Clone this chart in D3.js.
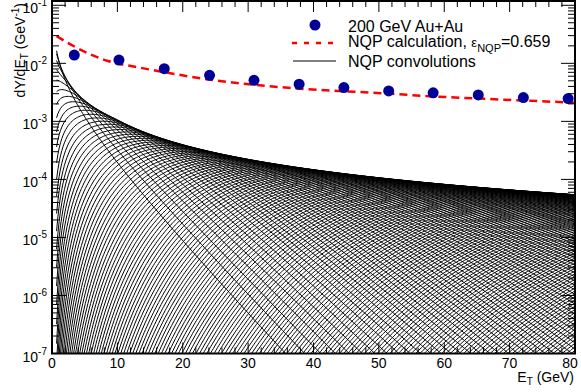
<!DOCTYPE html>
<html>
<head>
<meta charset="utf-8">
<script src="https://cdn.jsdelivr.net/npm/d3@7"></script>
<style>
  html, body { margin: 0; padding: 0; background: #fff; }
  svg { display: block; font-family: "Liberation Sans", Arial, Helvetica, sans-serif; }
</style>
</head>
<body>
<svg id="chart" width="581" height="392"></svg>
<script>
// measured Au+Au points
const dataE = [3.41, 10.24, 17.17, 24.1, 30.9, 37.8, 44.65, 51.5, 58.3, 65.2, 72.1, 78.95];
const dataY = [0.01387, 0.0114, 0.00807, 0.00622, 0.0051, 0.00436, 0.00382, 0.00335, 0.0031, 0.00286, 0.00257, 0.00247];

// NQP calculation (red dashed)
const calcE = [0.7, 3.8, 8.6, 13.5, 18.5, 23.7, 29.3, 37.9, 51.4, 58.6, 65.4, 73.1, 80];
const calcY = [0.0294, 0.0185, 0.01094, 0.0084, 0.00664, 0.00531, 0.00446, 0.00366, 0.00301, 0.00268, 0.00247, 0.00226, 0.0021];

// NQP convolutions: N-fold gamma, weight of each N read from the upper envelope
const nqpCount = 220;
const nqpShape = 0.23;  // gamma p per NQP
const nqpScale = 3.9;   // gamma b (GeV)
const nqpStart = 0.7;   // first E of each curve
const weightN = [1, 9.7, 220];
const weightP = [0.081, 0.019, 0.00104];

const xTicks = [0, 10, 20, 30, 40, 50, 60, 70, 80];
const yTicks = [-7, -6, -5, -4, -3, -2, -1];

const svg = d3.select("#chart");
const pL = 52, pR = 575, pT = 1, pB = 353.5;

const x = d3.scaleLinear().domain([0, 80]).range([pL, pR]);
const y = d3.scaleLog().domain([1e-7, Math.pow(10, -0.926)]).range([pB, pT]);

function lgamma(z) {
  const g = 7, c = [0.99999999999980993, 676.5203681218851, -1259.1392167224028,
    771.32342877765313, -176.61502916214059, 12.507343278686905,
    -0.13857109526572012, 9.9843695780195716e-6, 1.5056327351493116e-7];
  if (z < 0.5) return Math.log(Math.PI / Math.sin(Math.PI * z)) - lgamma(1 - z);
  z -= 1;
  let a = c[0];
  const t = z + g + 0.5;
  for (let i = 1; i < g + 2; i++) a += c[i] / (z + i);
  return 0.5 * Math.log(2 * Math.PI) + (z + 0.5) * Math.log(t) - t + Math.log(a);
}

// weight vs N, log-log between the read anchors
const lnW = d3.scaleLinear().domain(weightN.map(Math.log)).range(weightP.map(Math.log));

svg.append("clipPath").attr("id", "plot")
  .append("rect").attr("x", pL).attr("y", pT)
  .attr("width", pR - pL).attr("height", pB - pT);

const line = d3.line()
  .x(d => x(d[0]))
  .y(d => y(Math.max(d[1], 1e-9)));

const gridE = d3.range(nqpStart, 80.01, 0.2);
const curves = svg.append("g").attr("clip-path", "url(#plot)");
for (let n = 1; n <= nqpCount; n++) {
  const a = n * nqpShape;
  const lw = lnW(Math.log(n)) - lgamma(a) - a * Math.log(nqpScale);
  const pts = gridE.map(e => [e, Math.exp(lw + (a - 1) * Math.log(e) - e / nqpScale)]);
  if (d3.max(pts, d => d[1]) < 1e-7) continue;
  curves.append("path").attr("d", line(pts))
    .attr("fill", "none").attr("stroke", "#000").attr("stroke-width", 1);
}

const calcLine = d3.line().x((d, i) => x(calcE[i])).y(d => y(d)).curve(d3.curveMonotoneX);
svg.append("path").attr("d", calcLine(calcY)).attr("clip-path", "url(#plot)")
  .attr("fill", "none").attr("stroke", "#ff0000").attr("stroke-width", 2.5)
  .attr("stroke-dasharray", "8,5");

svg.append("g").selectAll("circle").data(dataY).join("circle")
  .attr("cx", (d, i) => x(dataE[i])).attr("cy", d => y(d)).attr("r", 5.5)
  .attr("fill", "#000099");

// axes, ROOT style
const ax = svg.append("g").attr("stroke", "#000");
ax.append("rect").attr("x", pL).attr("y", pT).attr("width", pR - pL)
  .attr("height", pB - pT).attr("fill", "none").attr("stroke-width", 2);

d3.range(0, 80.01, 2).forEach(v => {
  const len = v % 10 === 0 ? 11 : 6;
  ax.append("line").attr("x1", x(v)).attr("x2", x(v)).attr("y1", pB).attr("y2", pB - len);
  ax.append("line").attr("x1", x(v)).attr("x2", x(v)).attr("y1", pT).attr("y2", pT + len);
});
yTicks.forEach(p => {
  for (let m = 1; m <= 9; m++) {
    const v = m * Math.pow(10, p);
    if (y(v) < pT) break;
    const len = m === 1 ? 14 : 7;
    ax.append("line").attr("x1", pL).attr("x2", pL + len).attr("y1", y(v)).attr("y2", y(v));
    ax.append("line").attr("x1", pR).attr("x2", pR - len).attr("y1", y(v)).attr("y2", y(v));
  }
});

const lab = svg.append("g").attr("font-size", 14).attr("fill", "#000");
xTicks.forEach(v => {
  lab.append("text").attr("x", Math.min(x(v), 570)).attr("y", 368).attr("text-anchor", "middle").text(v);
});
yTicks.forEach(p => {
  const t = lab.append("text").attr("x", 47).attr("y", y(Math.pow(10, p)) + 8).attr("text-anchor", "end");
  t.append("tspan").text("10");
  t.append("tspan").attr("font-size", 10).attr("dy", -7).text(p);
});

const yt = lab.append("text").attr("transform", "translate(25,3) rotate(-90)").attr("text-anchor", "end");
yt.append("tspan").text("dY/dE");
yt.append("tspan").attr("font-size", 10).attr("dy", 3).text("T");
yt.append("tspan").attr("dy", -3).text(" (GeV");
yt.append("tspan").attr("font-size", 10).attr("dy", -6).text("-1");
yt.append("tspan").attr("dy", 6).text(")");

const xt = lab.append("text").attr("x", 574).attr("y", 382).attr("text-anchor", "end");
xt.append("tspan").text("E");
xt.append("tspan").attr("font-size", 10).attr("dy", 3).text("T");
xt.append("tspan").attr("dy", -3).text(" (GeV)");

// legend
const leg = svg.append("g").attr("font-size", 16);
leg.append("circle").attr("cx", 315).attr("cy", 25).attr("r", 5.5).attr("fill", "#000099");
leg.append("text").attr("x", 348).attr("y", 31.5).text("200 GeV Au+Au");
leg.append("line").attr("x1", 292).attr("x2", 334).attr("y1", 43).attr("y2", 43)
  .attr("stroke", "#ff0000").attr("stroke-width", 2.5).attr("stroke-dasharray", "5,7");
const l2 = leg.append("text").attr("x", 348).attr("y", 46.5);
l2.append("tspan").text("NQP calculation, ");
l2.append("tspan").attr("font-size", 13).text("\u03b5");
l2.append("tspan").attr("font-size", 11).attr("dy", 5).text("NQP");
l2.append("tspan").attr("dy", -5).text("=0.659");
leg.append("line").attr("x1", 293).attr("x2", 336).attr("y1", 61).attr("y2", 61)
  .attr("stroke", "#000").attr("stroke-width", 1);
leg.append("text").attr("x", 348).attr("y", 67).text("NQP convolutions");
</script>
</body>
</html>
